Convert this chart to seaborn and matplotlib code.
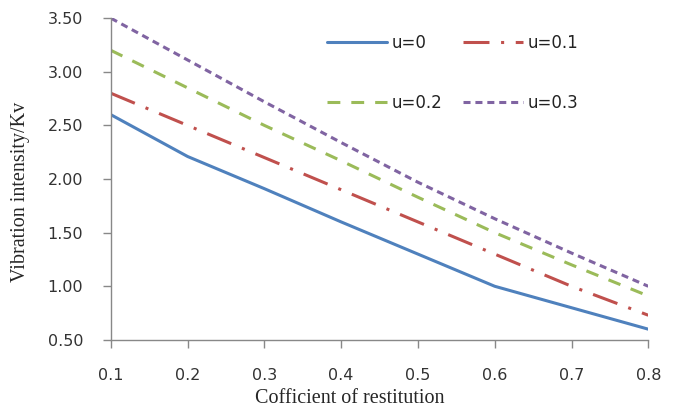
import matplotlib
matplotlib.use("Agg")
import matplotlib.pyplot as plt
import seaborn as sns
import pandas as pd

x = [0.1, 0.2, 0.3, 0.4, 0.5, 0.6, 0.7, 0.8]
u0 = [2.60, 2.21, 1.91, 1.60, 1.30, 1.00, 0.80, 0.60]
u01 = [2.80, 2.50, 2.20, 1.90, 1.60, 1.30, 1.00, 0.73]
u02 = [3.20, 2.85, 2.50, 2.17, 1.83, 1.50, 1.20, 0.91]
u03 = [3.50, 3.11, 2.72, 2.34, 1.97, 1.63, 1.31, 1.00]
labels = ["u=0", "u=0.1", "u=0.2", "u=0.3"]
xticks = [0.1, 0.2, 0.3, 0.4, 0.5, 0.6, 0.7, 0.8]
yticks = [0.5, 1.0, 1.5, 2.0, 2.5, 3.0, 3.5]

sns.set_style("white")
plt.rcParams['font.family'] = ['DejaVu Sans']

df = pd.DataFrame({"x": x * 4,
                   "y": u0 + u01 + u02 + u03,
                   "series": sum([[l] * len(x) for l in labels], [])})

colors = ["#4F81BD", "#C0504D", "#9BBB59", "#8064A2"]
dashes = [None, (8.5, 3.8, 1, 3.8), (4.2, 3.6), (2.3, 1.6)]

fig = plt.figure(figsize=(6.76, 4.13), dpi=100)
ax = fig.add_axes([0.164, 0.177, 0.795, 0.779])
handles = []
for lab, c, d in zip(labels, colors, dashes):
    sub = df[df.series == lab]
    sns.lineplot(data=sub, x="x", y="y", ax=ax, color=c, linewidth=2.2, label=lab)
    l = ax.get_lines()[-1]
    if d is not None:
        l.set_dashes(d)
    handles.append(l)

ax.set_xlim(0.1, 0.8)
ax.set_ylim(0.5, 3.5)
ax.set_xticks(xticks)
ax.set_xticklabels([f"{v:.1f}" for v in xticks])
ax.set_yticks(yticks)
ax.set_yticklabels([f"{v:.2f}" for v in yticks])
for s in ["top", "right"]:
    ax.spines[s].set_visible(False)
for s in ["left", "bottom"]:
    ax.spines[s].set_color("#888888")
    ax.spines[s].set_linewidth(1.0)
ax.tick_params(axis="both", direction="out", length=6, color="#888888", width=1,
               labelsize=11.5, labelcolor="#333333", bottom=True, left=True)
ax.tick_params(axis="x", pad=14)
ax.tick_params(axis="y", pad=14)
ax.set_xlabel("Cofficient of restitution", family="Liberation Serif", fontsize=14.5)
ax.set_ylabel("Vibration intensity/Kv", family="Liberation Serif", fontsize=14.5)
ax.xaxis.set_label_coords(0.445, -0.153)
ax.yaxis.set_label_coords(-0.151, 0.46)

order = [0, 2, 1, 3]
leg = ax.legend([handles[i] for i in order], [labels[i] for i in order],
                ncol=2, frameon=False, loc="upper left",
                bbox_to_anchor=(327 / 676, 1 - 34 / 413), bbox_transform=fig.transFigure,
                borderpad=0, borderaxespad=0,
                fontsize=12, handlelength=3.6, columnspacing=1.2, labelspacing=2.5,
                handletextpad=0.3)
for t in leg.get_texts():
    t.set_color("#222222")

fig.savefig("out.png", dpi=100)
